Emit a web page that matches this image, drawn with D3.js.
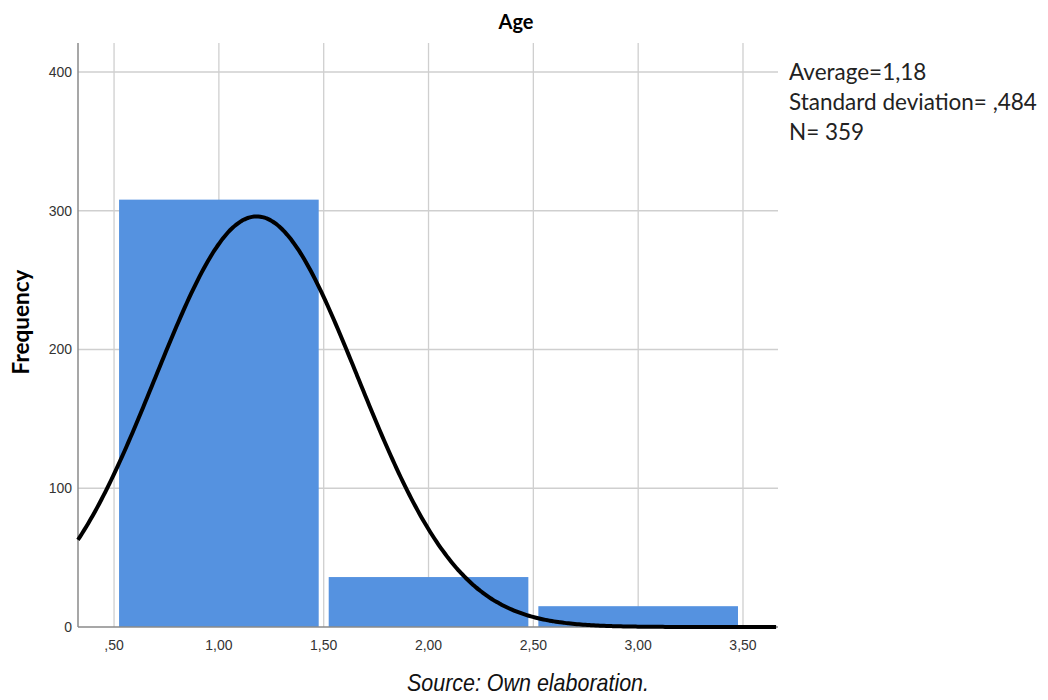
<!DOCTYPE html>
<html>
<head>
<meta charset="utf-8">
<script src="https://cdn.jsdelivr.net/npm/d3@7"></script>
<style>
  body { margin: 0; background: #fff; }
</style>
</head>
<body>
<div id="chart"></div>
<script>
// histogram bins (lower edge, upper edge) and counts
const binStarts = [0.5, 1.5, 2.5]
const binEnds = [1.5, 2.5, 3.5]
const counts = [308, 36, 15]
const xTicks = [0.5, 1.0, 1.5, 2.0, 2.5, 3.0, 3.5]
const xTickLabels = [',50', '1,00', '1,50', '2,00', '2,50', '3,00', '3,50']
const yTicks = [0, 100, 200, 300, 400]
const statLines = ['Average=1,18', 'Standard deviation= ,484', 'N= 359']
// stats shown on the chart, used for the fitted normal curve
const mean = 1.18
const sd = 0.484
const n = 359
const binWidth = 1

const width = 1048
const height = 700
const margin = {top: 43, right: 270, bottom: 73, left: 78}
const sans = "'Liberation Sans', Arial, sans-serif"
const humanist = "Lato, 'Open Sans', sans-serif"

const x = d3.scaleLinear()
  .domain([0.328, 3.667])
  .range([margin.left, width - margin.right])
const y = d3.scaleLinear()
  .domain([0, 400])
  .range([627, 72])
const plotBottom = 627

const svg = d3.create('svg')
  .attr('width', width)
  .attr('height', height)
  .attr('viewBox', [0, 0, width, height])

// gridlines
svg.append('g')
  .attr('stroke', '#cfcfcf')
  .attr('stroke-width', 1.3)
  .selectAll('line')
  .data(xTicks)
  .join('line')
  .attr('x1', d => x(d)).attr('x2', d => x(d))
  .attr('y1', margin.top).attr('y2', plotBottom)

svg.append('g')
  .attr('stroke', '#cfcfcf')
  .attr('stroke-width', 1.3)
  .selectAll('line')
  .data(yTicks.slice(1))
  .join('line')
  .attr('x1', margin.left).attr('x2', x.range()[1])
  .attr('y1', d => y(d)).attr('y2', d => y(d))

// bars
svg.append('g')
  .selectAll('rect')
  .data(counts)
  .join('rect')
  .attr('x', (d, i) => x(binStarts[i]) + 5)
  .attr('width', (d, i) => x(binEnds[i]) - x(binStarts[i]) - 10)
  .attr('y', d => y(d))
  .attr('height', d => y(0) - y(d))
  .attr('fill', '#5592e0')

// axes lines
svg.append('line')
  .attr('x1', margin.left).attr('x2', margin.left)
  .attr('y1', margin.top).attr('y2', plotBottom)
  .attr('stroke', '#8a8a8a').attr('stroke-width', 1.5)
svg.append('line')
  .attr('x1', margin.left).attr('x2', x.range()[1])
  .attr('y1', plotBottom).attr('y2', plotBottom)
  .attr('stroke', '#8a8a8a').attr('stroke-width', 1.5)

// normal curve
const normal = v => n * binWidth / (sd * Math.sqrt(2 * Math.PI)) * Math.exp(-0.5 * ((v - mean) / sd) ** 2)
const curveXs = d3.range(x.domain()[0], x.domain()[1] + 0.001, 0.01)
svg.append('path')
  .datum(curveXs)
  .attr('fill', 'none')
  .attr('stroke', '#000')
  .attr('stroke-width', 4)
  .attr('d', d3.line().x(d => x(d)).y(d => y(normal(d))).curve(d3.curveBasis))

// tick labels
svg.append('g')
  .attr('font-family', sans)
  .attr('font-size', 14)
  .attr('fill', '#333')
  .attr('text-anchor', 'middle')
  .selectAll('text')
  .data(xTicks)
  .join('text')
  .attr('x', d => x(d))
  .attr('y', plotBottom + 23)
  .text((d, i) => xTickLabels[i])

svg.append('g')
  .attr('font-family', sans)
  .attr('font-size', 14)
  .attr('fill', '#333')
  .attr('text-anchor', 'end')
  .selectAll('text')
  .data(yTicks)
  .join('text')
  .attr('x', 72)
  .attr('y', d => y(d))
  .attr('dy', '0.35em')
  .text(d => d)

// title and axis label
svg.append('text')
  .attr('x', 516).attr('y', 29)
  .attr('text-anchor', 'middle')
  .attr('font-family', humanist)
  .attr('font-weight', 'bold')
  .attr('font-size', 20)
  .text('Age')

svg.append('text')
  .attr('transform', 'translate(29, 322) rotate(-90)')
  .attr('text-anchor', 'middle')
  .attr('font-family', humanist)
  .attr('font-weight', 'bold')
  .attr('font-size', 22.5)
  .text('Frequency')

// stats
svg.append('g')
  .attr('font-family', humanist)
  .attr('font-size', 22.5)
  .attr('fill', '#222')
  .selectAll('text')
  .data(statLines)
  .join('text')
  .attr('x', 789)
  .attr('y', (d, i) => 80 + i * 30)
  .text(d => d)

// source
svg.append('text')
  .attr('x', 528).attr('y', 691)
  .attr('text-anchor', 'middle')
  .attr('font-family', sans)
  .attr('font-style', 'italic')
  .attr('font-size', 24)
  .attr('textLength', 242)
  .attr('lengthAdjust', 'spacingAndGlyphs')
  .attr('fill', '#111')
  .text('Source: Own elaboration.')

document.getElementById('chart').appendChild(svg.node())
</script>
</body>
</html>
